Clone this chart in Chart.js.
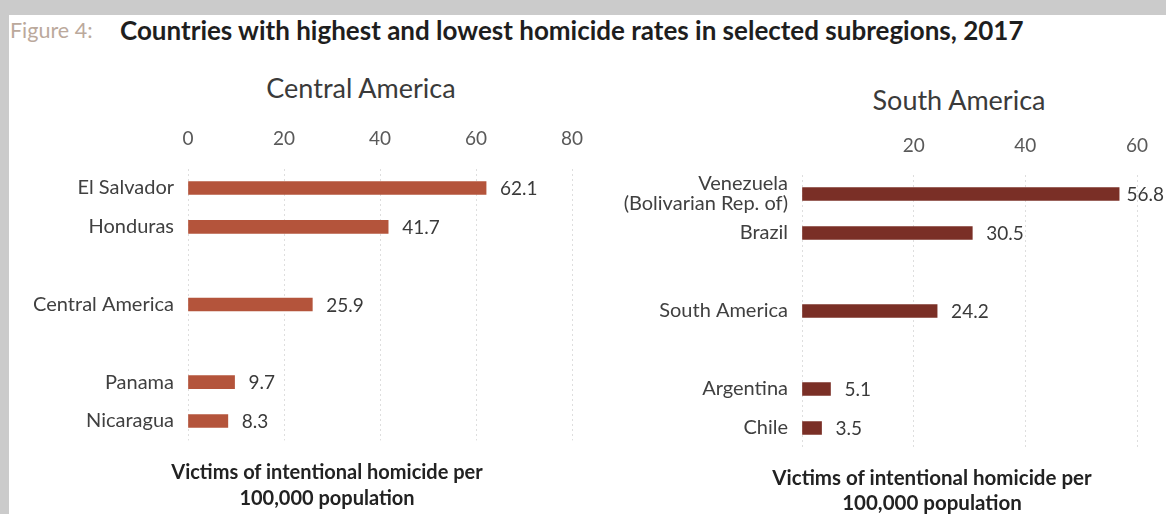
<!DOCTYPE html>
<html><head><meta charset="utf-8">
<script src="https://cdn.jsdelivr.net/npm/chart.js@4.4.0/dist/chart.umd.min.js"></script>
<style>
html,body{margin:0;padding:0;width:1166px;height:514px;overflow:hidden;background:#cbcbcb;position:relative;}
#panel{position:absolute;left:9px;top:15px;width:1157px;height:499px;background:#fff;}
canvas{position:absolute;}
.txt{position:absolute;font-family:Lato,sans-serif;white-space:nowrap;}
#fig{left:10px;top:17px;font-size:21.5px;color:#bba99c;line-height:26px;}
#ftitle{left:120px;top:15px;font-size:26px;font-weight:bold;color:#1e1e1e;line-height:30px;}
.ct{font-size:27px;color:#3a3a3a;line-height:32px;text-align:center;width:400px;}
#ctL{left:161px;top:72px;}
#ctR{left:759px;top:84px;}
.cap{font-weight:bold;font-size:20px;color:#222;text-align:center;width:440px;}
#capL{left:107px;top:458px;line-height:26px;}
#capR{left:712px;top:465px;line-height:25px;font-size:20.5px;}
</style></head>
<body>
<div id="panel"></div>
<div class="txt" id="fig">Figure 4:</div>
<div class="txt" id="ftitle">Countries with highest and lowest homicide rates in selected subregions, 2017</div>
<div class="txt ct" id="ctL"></div>
<div class="txt ct" id="ctR"></div>
<canvas id="cL" width="610" height="454" style="left:0px;top:60px"></canvas>
<canvas id="cR" width="556" height="460" style="left:610px;top:60px"></canvas>
<div class="txt cap" id="capL"></div>
<div class="txt cap" id="capR"></div>
<script>
// ---- data ----
const caTitle = 'Central America';
const caLabels = ['El Salvador', 'Honduras', '', 'Central America', '', 'Panama', 'Nicaragua'];
const caValues = [62.1, 41.7, null, 25.9, null, 9.7, 8.3];
const caTickLabels = [0, 20, 40, 60, 80];

const saTitle = 'South America';
const saLabels = [['Venezuela', '(Bolivarian Rep. of)'], 'Brazil', '', 'South America', '', 'Argentina', 'Chile'];
const saValues = [56.8, 30.5, null, 24.2, null, 5.1, 3.5];
const saTickLabels = [20, 40, 60];

const axisCaption = ['Victims of intentional homicide per', '100,000 population'];

// ---- text ----
document.getElementById('ctL').textContent = caTitle;
document.getElementById('ctR').textContent = saTitle;
['capL', 'capR'].forEach(id => { document.getElementById(id).innerHTML = axisCaption.join('<br>'); });

// ---- chart ----
Chart.defaults.font.family = 'Lato, sans-serif';

const valueLabels = {
  id: 'valueLabels',
  afterDatasetsDraw(chart, args, opts) {
    const ctx = chart.ctx;
    const meta = chart.getDatasetMeta(0);
    const data = chart.data.datasets[0].data;
    ctx.save();
    ctx.font = '19px Lato, sans-serif';
    ctx.fillStyle = '#3a3a3a';
    ctx.textBaseline = 'middle';
    ctx.textAlign = 'left';
    meta.data.forEach((bar, i) => {
      const v = data[i];
      if (v == null) return;
      const t = v.toFixed(1);
      let x = bar.x + opts.offset;
      const w = ctx.measureText(t).width;
      if (opts.maxX != null && x + w > opts.maxX) x = opts.maxX - w;
      ctx.fillText(t, x, bar.y + 1);
    });
    ctx.restore();
  }
};

function makeChart(id, labels, values, tickLabels, color, max, geo) {
  return new Chart(document.getElementById(id), {
    type: 'bar',
    data: { labels: labels, datasets: [{ data: values, backgroundColor: color, barThickness: 13 }] },
    options: {
      indexAxis: 'y', responsive: false, animation: false, devicePixelRatio: 1,
      layout: { padding: { left: 0, right: geo.padRight, top: geo.padTop, bottom: geo.padBottom } },
      plugins: {
        legend: { display: false }, tooltip: { enabled: false }, title: { display: false },
        valueLabels: { offset: 14, maxX: geo.maxX }
      },
      scales: {
        x: {
          position: 'top', min: 0, max: max,
          afterFit: s => { s.height = 45; },
          ticks: { stepSize: 20, padding: geo.tickPad, color: '#595959', font: { size: 19 },
                   callback: v => tickLabels.includes(v) ? String(v) : '' },
          grid: { color: '#dedede', drawTicks: false },
          border: { display: false, dash: [2, 3] }
        },
        y: {
          afterFit: s => { s.width = geo.yWidth; },
          ticks: { color: '#404040', font: { size: 20, lineHeight: 1.0 }, padding: 14, autoSkip: false },
          grid: { display: false, drawTicks: false },
          border: { display: false }
        }
      }
    },
    plugins: [valueLabels]
  });
}

makeChart('cL', caLabels, caValues, caTickLabels, '#b4543b', 80,
  { yWidth: 188, padRight: 38, padTop: 63.6, padBottom: 73.6, tickPad: 18.2, maxX: null });
makeChart('cR', saLabels, saValues, saTickLabels, '#7a2f26', 60,
  { yWidth: 192, padRight: 29, padTop: 69.5, padBottom: 72.5, tickPad: 17.1, maxX: 554 });
</script>
</body></html>
